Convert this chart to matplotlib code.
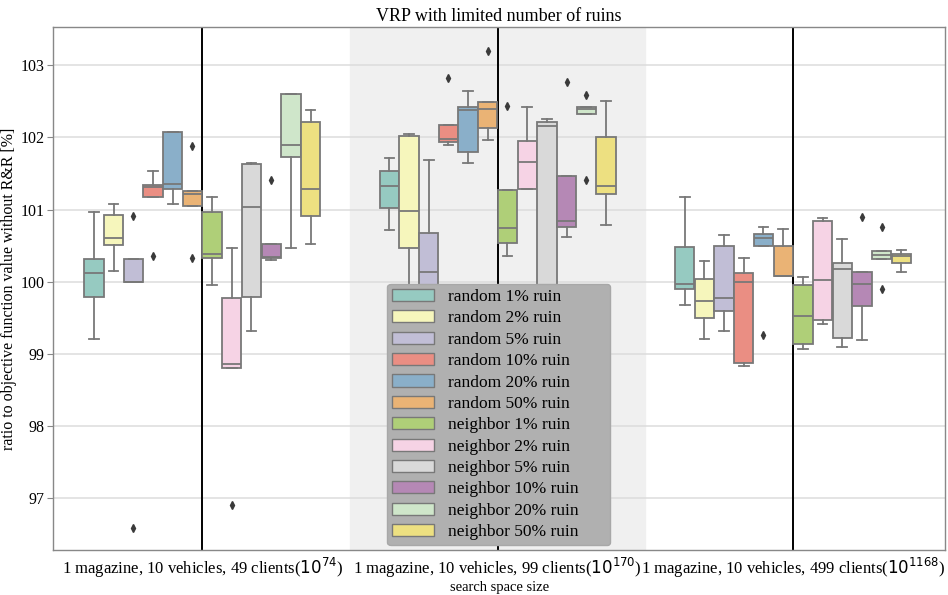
import matplotlib
matplotlib.use("Agg")
import matplotlib.pyplot as plt
import matplotlib.patches as mpatches
import seaborn as sns

categories = [
    "1 magazine, 10 vehicles, 49 clients($10^{74}$)",
    "1 magazine, 10 vehicles, 99 clients($10^{170}$)",
    "1 magazine, 10 vehicles, 499 clients($10^{1168}$)",
]
series = [
    "random 1% ruin", "random 2% ruin", "random 5% ruin", "random 10% ruin",
    "random 20% ruin", "random 50% ruin", "neighbor 1% ruin", "neighbor 2% ruin",
    "neighbor 5% ruin", "neighbor 10% ruin", "neighbor 20% ruin", "neighbor 50% ruin",
]

# box statistics per category (rows) and series (columns)
whislo = [
    [99.20, 100.15, 99.99, 101.17, 101.08, 101.05, 99.96, 98.81, 99.31, 100.30, 100.46, 100.52],
    [100.71, 99.64, 99.86, 101.89, 101.65, 101.96, 100.35, 101.28, 99.90, 100.62, 102.33, 100.79],
    [99.67, 99.20, 99.31, 98.83, 100.50, 100.08, 99.07, 99.42, 99.10, 99.19, 100.32, 100.13],
]
q1 = [
    [99.79, 100.51, 99.99, 101.17, 101.28, 101.05, 100.33, 98.81, 99.79, 100.33, 101.73, 100.91],
    [101.02, 100.47, 99.92, 101.93, 101.80, 102.13, 100.53, 101.28, 99.90, 100.76, 102.33, 101.22],
    [99.90, 99.49, 99.59, 98.87, 100.50, 100.08, 99.14, 99.47, 99.22, 99.66, 100.32, 100.26],
]
med = [
    [100.12, 100.60, 99.99, 101.31, 101.35, 101.22, 100.38, 98.86, 101.03, 100.34, 101.90, 101.29],
    [101.33, 100.98, 100.13, 101.98, 102.38, 102.40, 100.74, 101.66, 102.16, 100.84, 102.40, 101.33],
    [99.97, 99.73, 99.78, 99.99, 100.60, 100.08, 99.52, 100.02, 100.17, 99.97, 100.37, 100.36],
]
q3 = [
    [100.32, 100.93, 100.32, 101.34, 102.08, 101.25, 100.97, 99.77, 101.63, 100.52, 102.60, 102.21],
    [101.54, 102.02, 100.67, 102.17, 102.42, 102.49, 101.27, 101.95, 102.21, 101.47, 102.42, 102.00],
    [100.48, 100.03, 100.49, 100.12, 100.66, 100.50, 99.95, 100.84, 100.26, 100.13, 100.42, 100.39],
]
whishi = [
    [100.96, 101.07, 100.32, 101.54, 102.08, 101.25, 101.17, 100.46, 101.65, 100.52, 102.60, 102.38],
    [101.72, 102.05, 101.69, 102.17, 102.64, 102.49, 101.27, 102.42, 102.25, 101.47, 102.42, 102.50],
    [101.17, 100.29, 100.64, 100.33, 100.76, 100.73, 100.06, 100.88, 100.59, 100.13, 100.42, 100.44],
]
fliers = [
    [[], [], [100.91, 96.59], [100.35], [], [101.88, 100.33], [], [96.90], [], [101.41], [], []],
    [[], [], [], [102.82], [], [103.20], [102.43], [], [], [102.77], [102.59, 101.41], []],
    [[], [], [], [], [99.26], [], [], [], [], [100.89], [100.76, 99.90], []],
]

plt.rcParams["font.family"] = ["Liberation Serif", "DejaVu Serif"]
plt.rcParams["mathtext.fontset"] = "dejavusans"

colors = sns.color_palette("Set3", len(series), desat=0.75)
line_gray = "#787878"

fig = plt.figure(figsize=(9.48, 5.95), dpi=100)
ax = fig.add_axes([0.056, 0.0756, 0.941, 0.879])

n = len(series)
step = 0.8 / n
stats, positions, facecols = [], [], []
for g in range(len(categories)):
    for i in range(n):
        stats.append(dict(med=med[g][i], q1=q1[g][i], q3=q3[g][i],
                          whislo=whislo[g][i], whishi=whishi[g][i],
                          fliers=fliers[g][i]))
        positions.append(g - 0.4 + step * (i + 0.5))
        facecols.append(colors[i])

bp = ax.bxp(stats, positions=positions, widths=step * 0.98, patch_artist=True,
            manage_ticks=False,
            boxprops=dict(edgecolor=line_gray, linewidth=1.3),
            medianprops=dict(color=line_gray, linewidth=1.3),
            whiskerprops=dict(color=line_gray, linewidth=1.3),
            capprops=dict(color=line_gray, linewidth=1.3),
            flierprops=dict(marker="d", markersize=4, markerfacecolor="#3a3a3a",
                            markeredgecolor="#3a3a3a", linestyle="none"))
for patch, c in zip(bp["boxes"], facecols):
    patch.set_facecolor(c)
    patch.set_zorder(3)
for key in ("medians", "whiskers", "caps", "fliers"):
    for artist in bp[key]:
        artist.set_zorder(3)

ax.set_xlim(-0.505, 2.515)
ax.set_ylim(96.28, 103.53)
ax.axvspan(0.5, 1.5, color="#f0f0f0", zorder=0)
for g in range(len(categories)):
    ax.axvline(g, color="black", linewidth=1.4, zorder=2)

ax.set_yticks([97, 98, 99, 100, 101, 102, 103])
ax.yaxis.grid(True, color="#dcdcdc", linewidth=1.1, zorder=1)
ax.set_axisbelow(True)
ax.set_xticks(range(len(categories)))
ax.set_xticklabels(categories, fontsize=12)
ax.tick_params(axis="y", labelsize=11.5, length=4, color="#888888", pad=2)
ax.tick_params(axis="x", length=0, pad=4)
for side in ax.spines.values():
    side.set_color("#888888")
    side.set_linewidth(1.0)

ax.set_ylabel("ratio to objective function value without R&R [%]", fontsize=11.5, labelpad=3)
ax.set_xlabel("search space size", fontsize=10.5, labelpad=1)
ax.set_title("VRP with limited number of ruins", fontsize=13, pad=4)

handles = [mpatches.Patch(facecolor=c, edgecolor=line_gray, label=s)
           for c, s in zip(colors, series)]
leg = ax.legend(handles=handles, loc="lower left", mode="expand",
                bbox_to_anchor=(0.3744, 0.009, 0.25, 0.2),
                borderaxespad=0, fontsize=12.5,
                facecolor="#b0b0b0", edgecolor="#a8a8a8", framealpha=1,
                handlelength=2.4, labelspacing=0.3, handletextpad=0.8,
                borderpad=0.3)
leg.set_zorder(5)

fig.savefig("out.png", dpi=100)
